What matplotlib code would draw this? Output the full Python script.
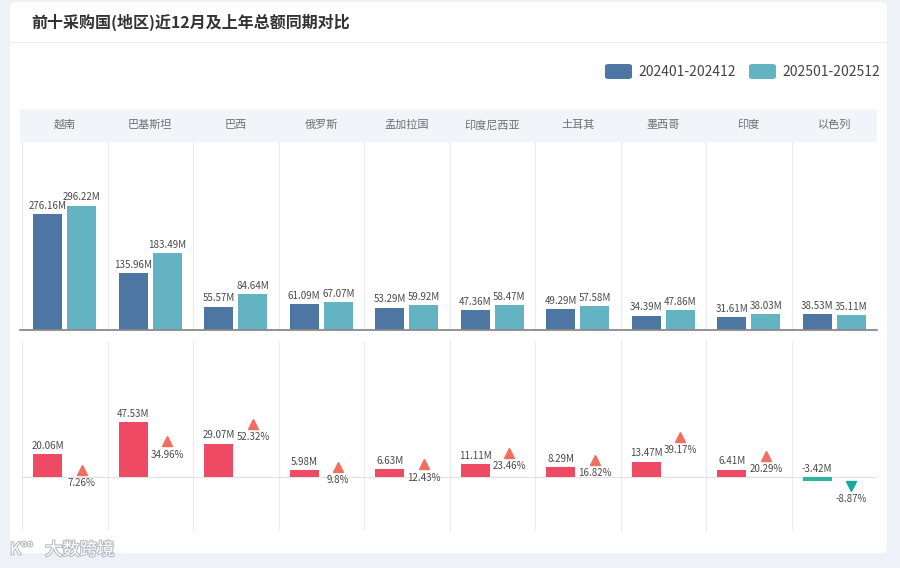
import matplotlib
matplotlib.use("Agg")
import matplotlib.pyplot as plt
from matplotlib.patches import FancyBboxPatch, Rectangle
import matplotlib.patheffects as pe

plt.rcParams['font.family'] = ['Noto Sans CJK SC', 'DejaVu Sans']

title = "前十采购国(地区)近12月及上年总额同期对比"
countries = ['越南', '巴基斯坦', '巴西', '俄罗斯', '孟加拉国', '印度尼西亚', '土耳其', '墨西哥', '印度', '以色列']
series_names = ['202401-202412', '202501-202512']
v2024 = [276.16, 135.96, 55.57, 61.09, 53.29, 47.36, 49.29, 34.39, 31.61, 38.53]
v2025 = [296.22, 183.49, 84.64, 67.07, 59.92, 58.47, 57.58, 47.86, 38.03, 35.11]
diff = [20.06, 47.53, 29.07, 5.98, 6.63, 11.11, 8.29, 13.47, 6.41, -3.42]
pct = [7.26, 34.96, 52.32, 9.8, 12.43, 23.46, 16.82, 39.17, 20.29, -8.87]

W, H = 900, 568
C_BLUE = '#4e76a3'
C_TEAL = '#64b3c2'
C_RED = '#ee4a64'
C_GREEN = '#2fb39f'
C_UP = '#f0705f'
C_DOWN = '#17a99a'
C_GRID = '#e9ebef'
C_LABEL = '#4a4a4a'
LBL_FS = 7


def fx(x):
    return x / W


def fy(y):
    return 1 - y / H


fig = plt.figure(figsize=(9, 5.68), dpi=100, facecolor='#eef1f7')

# card
card = FancyBboxPatch((fx(10), fy(553)), fx(877), 551 / H,
                      boxstyle="round,pad=0,rounding_size=0.008",
                      transform=fig.transFigure, facecolor='white', edgecolor='none', zorder=-2)
fig.patches.append(card)
fig.add_artist(plt.Line2D([fx(10), fx(887)], [fy(42), fy(42)], transform=fig.transFigure,
                          color='#eceef2', lw=0.8, zorder=-1))
fig.text(fx(31), fy(22), title, fontsize=11.5, fontweight='bold', color='#333333',
         ha='left', va='center')

# legend
for i, (name, col) in enumerate(zip(series_names, [C_BLUE, C_TEAL])):
    x0 = 605 + i * 144
    p = FancyBboxPatch((fx(x0), fy(79)), fx(27), 15 / H,
                       boxstyle="round,pad=0,rounding_size=0.004",
                       transform=fig.transFigure, facecolor=col, edgecolor='none')
    fig.patches.append(p)
    fig.text(fx(x0 + 33), fy(71.5), name, fontsize=10, color='#444444', ha='left', va='center')

# header band
fig.patches.append(Rectangle((fx(20), fy(142)), fx(857), 33 / H, transform=fig.transFigure,
                             facecolor='#f2f4fa', edgecolor='none', zorder=-1))
left_px, right_px = 22, 877
colw = (right_px - left_px) / len(countries)
for i, c in enumerate(countries):
    fig.text(fx(left_px + colw * (i + 0.5)), fy(125), c, fontsize=8, color='#707070',
             ha='center', va='center')

n = len(countries)
xs = [i + 0.5 for i in range(n)]
off, bw = 0.2, 0.34

# top axes
axt = fig.add_axes([fx(left_px), fy(330), fx(right_px - left_px), (330 - 142) / H], zorder=3)
axt.set_xlim(0, n)
axt.set_ylim(0, 188 / 0.42)
axt.axis('off')
for k in range(n + 1):
    axt.axvline(k, color=C_GRID, lw=0.8, zorder=0)
axt.bar([x - off for x in xs], v2024, width=bw, color=C_BLUE, zorder=2)
axt.bar([x + off for x in xs], v2025, width=bw, color=C_TEAL, zorder=2)
for x, a, b in zip(xs, v2024, v2025):
    axt.annotate(f"{a:g}M", (x - off, a), xytext=(0, 2.3), textcoords='offset points',
                 ha='center', va='bottom', fontsize=LBL_FS, color=C_LABEL)
    axt.annotate(f"{b:g}M", (x + off, b), xytext=(0, 2.3), textcoords='offset points',
                 ha='center', va='bottom', fontsize=LBL_FS, color=C_LABEL)
fig.add_artist(plt.Line2D([fx(20), fx(877)], [fy(330), fy(330)], transform=fig.transFigure,
                          color='#8a8a8a', lw=1.3, zorder=5))

# bottom axes
pxm = 1.15
axb = fig.add_axes([fx(left_px), fy(531), fx(right_px - left_px), (531 - 341) / H], zorder=3)
axb.set_xlim(0, n)
axb.set_ylim(-(531 - 477) / pxm, (477 - 341) / pxm)
axb.axis('off')
for k in range(n + 1):
    axb.axvline(k, color=C_GRID, lw=0.8, zorder=0)
axb.axhline(0, color='#e2e2e2', lw=0.9, zorder=1)
axb.bar([x - off for x in xs], diff, width=bw,
        color=[C_RED if d >= 0 else C_GREEN for d in diff], zorder=2)
for x, d in zip(xs, diff):
    axb.annotate(f"{d:g}M", (x - off, max(d, 0)), xytext=(0, 2.3), textcoords='offset points',
                 ha='center', va='bottom', fontsize=LBL_FS, color=C_LABEL)

pxp = 1.02
ax2 = axb.twinx()
ax2.set_zorder(4)
ax2.set_ylim(-(531 - 477) / pxp, (477 - 341) / pxp)
ax2.axis('off')
for x, p in zip(xs, pct):
    up = p >= 0
    ax2.plot([x + off], [p], marker='^' if up else 'v', markersize=7.5,
             color=C_UP if up else C_DOWN, linestyle='none', zorder=3)
    ax2.annotate(f"{p:g}%", (x + off, p), xytext=(0, -9.5), textcoords='offset points',
                 ha='center', va='center', fontsize=LBL_FS, color=C_LABEL)

# watermark logo
fig.text(fx(45), fy(550), "大数跨境", fontsize=12.5, color='white', ha='left', va='center',
         path_effects=[pe.withStroke(linewidth=1.6, foreground='#b8bcc4')], zorder=6)
fig.text(fx(10), fy(550), "K°°", fontsize=12, color='white', ha='left', va='center',
         path_effects=[pe.withStroke(linewidth=1.6, foreground='#b8bcc4')], zorder=6)

fig.savefig("out.png", dpi=100, facecolor=fig.get_facecolor())
